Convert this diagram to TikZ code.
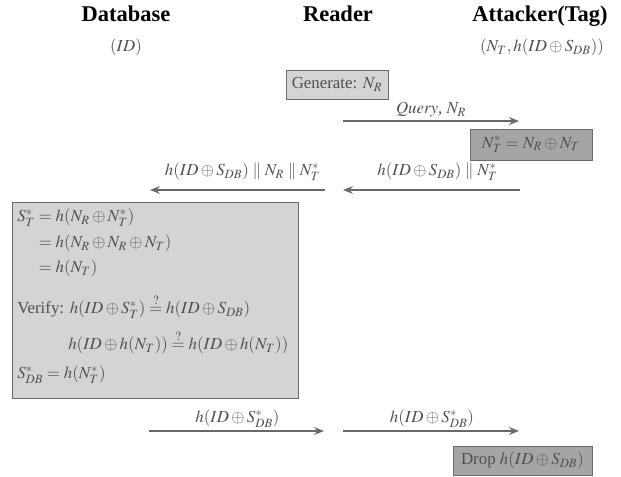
\documentclass[tikz,border=0pt]{standalone}
\usepackage{fontspec}
\usepackage{mathptmx}
\setmainfont{Liberation Serif}
\usetikzlibrary{positioning,arrows.meta,calc}

\definecolor{inkgray}{RGB}{80,80,80}
\definecolor{linegray}{RGB}{105,105,105}
\definecolor{lightfill}{RGB}{212,212,212}
\definecolor{darkfill}{RGB}{165,165,165}

\tikzset{
  title/.style={font=\fontsize{16}{19}\selectfont\bfseries, text=black, anchor=base},
  txt/.style={font=\fontsize{12}{14}\selectfont, text=inkgray},
  lightbox/.style={txt, rectangle, draw=linegray, fill=lightfill, inner sep=0pt},
  darkbox/.style={txt, rectangle, draw=linegray, fill=darkfill, inner sep=0pt},
  workline/.style={txt, anchor=base west, inner sep=0pt},
  msg/.style={draw=linegray, line width=0.9pt, -{Stealth[length=7pt,width=5.5pt]}}
}

\begin{document}
\begin{tikzpicture}[x=0.025cm, y=-0.025cm]
	\useasboundingbox (0,0) rectangle (621,477);
	% Place nodes
	\node [title] (db) at (126,22) {Database};
	\node [title] (rd) at (338,22) {Reader};
	\node [title] (tag) at (540,22) {Attacker(Tag)};
	\node [txt, anchor=base] (dbinit) at (126,52) {$(ID)$};
	\node [txt, anchor=base] (taginit) at (542,52) {$(N_T, h(ID \oplus S_{DB}))$};

	\node [lightbox, minimum width=2.55cm, minimum height=0.725cm] (gen) at (337,84.5) {Generate: $N_R$};

	% query
	\coordinate (q1) at (343,121);
	\coordinate (q2) at (519,121);
	\node [txt, anchor=base] (qlbl) at ($(q1)!0.5!(q2)+(0,-7)$) {$\mathit{Query}$, $N_R$};
	\draw [msg] (q1) -- (q2);

	\node [darkbox, minimum width=3.05cm, minimum height=0.775cm] (nt) at (531,144.5) {$N_T^* = N_R \oplus N_T$};

	% tag -> reader -> database
	\coordinate (r1) at (520,190);
	\coordinate (r2) at (343,190);
	\coordinate (d1) at (325,190);
	\coordinate (d2) at (150,190);
	\node [txt, anchor=base] (rlbl) at ($(r1)!0.5!(r2)+(6,-14)$) {$h(ID \oplus S_{DB}) \parallel N_T^*$};
	\node [txt, anchor=base] (dlbl) at ($(d1)!0.5!(d2)+(5,-14)$) {$h(ID \oplus S_{DB}) \parallel N_R \parallel N_T^*$};
	\draw [msg] (r1) -- (r2);
	\draw [msg] (d1) -- (d2);

	% database work
	\node [lightbox, anchor=north west, minimum width=7.15cm, minimum height=4.9cm] (work) at (12,202) {};
	\node [workline] (w1) at (17,222) {$S_T^* = h(N_R \oplus N_T^*)$};
	\node [workline] (w2) at (17,248) {$\phantom{S_T^*} = h(N_R \oplus N_R \oplus N_T)$};
	\node [workline] (w3) at (17,273) {$\phantom{S_T^*} = h(N_T)$};
	\node [workline] (w4) at (17,314) {Verify: $h(ID \oplus S_T^*) \stackrel{?}{=} h(ID \oplus S_{DB})$};
	\node [workline] (w5) at (68,350) {$h(ID \oplus h(N_T)) \stackrel{?}{=} h(ID \oplus h(N_T))$};
	\node [workline] (w6) at (17,379) {$S_{DB}^* = h(N_T^*)$};

	% database -> reader -> tag
	\coordinate (u1) at (149,431);
	\coordinate (u2) at (324,431);
	\coordinate (t1) at (343,431);
	\coordinate (t2) at (519,431);
	\node [txt, anchor=base] (ulbl) at ($(u1)!0.5!(u2)+(1,-8)$) {$h(ID \oplus S_{DB}^*)$};
	\node [txt, anchor=base] (tlbl) at ($(t1)!0.5!(t2)+(1,-8)$) {$h(ID \oplus S_{DB}^*)$};
	\draw [msg] (u1) -- (u2);
	\draw [msg] (t1) -- (t2);

	\node [darkbox, minimum width=3.475cm, minimum height=0.725cm] (drop) at (522.5,460.5) {Drop $h(ID \oplus S_{DB})$};
\end{tikzpicture}
\end{document}
